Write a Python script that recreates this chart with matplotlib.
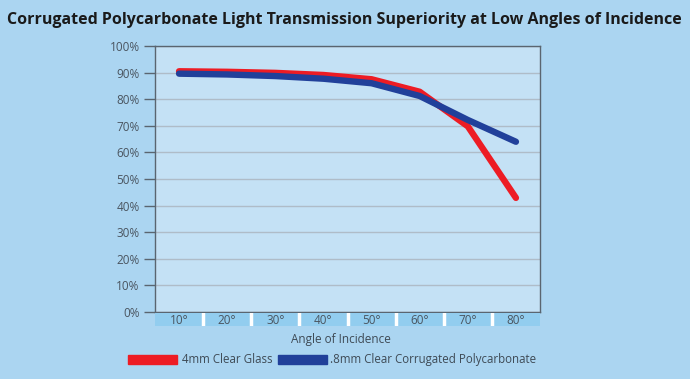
import matplotlib
matplotlib.use('Agg')
import matplotlib.pyplot as plt
from matplotlib.patches import Rectangle

angles = ['10°', '20°', '30°', '40°', '50°', '60°', '70°', '80°']
glass = [90.5, 90.3, 89.9, 89.1, 87.5, 82.8, 69.8, 42.9]
polycarb = [89.6, 89.3, 88.7, 87.7, 86.0, 81.2, 72.2, 64.0]
yticks = list(range(0, 101, 10))
series_names = ['4mm Clear Glass', '.8mm Clear Corrugated Polycarbonate']

plt.rcParams['font.family'] = ['Open Sans', 'DejaVu Sans']

W, H = 690, 379
fig = plt.figure(figsize=(W / 100, H / 100), dpi=100)
fig.patch.set_facecolor('#abd5f1')

def fx(px):
    return px / W

def fy(py):
    return 1 - py / H

# main plot area
ax = fig.add_axes([fx(155), fy(312), fx(540 - 155), fy(46) - fy(312)])
ax.set_facecolor('#c4e1f5')
x = list(range(len(angles)))
ax.plot(x, glass, color='#ed1c24', lw=4.6, solid_capstyle='round', zorder=3)
ax.plot(x, polycarb, color='#21409a', lw=4.6, solid_capstyle='round', zorder=4)
ax.set_xlim(-0.5, len(angles) - 0.5)
ax.set_ylim(0, 100)
ax.set_yticks(yticks)
ax.set_yticklabels([f'{v}%' for v in yticks], fontsize=8.5, color='#4a5560')
ax.tick_params(axis='y', length=8, width=1, color='#5a6570', pad=3)
ax.set_xticks([])
ax.grid(axis='y', color='#afbcc8', lw=1)
ax.set_axisbelow(True)
for s in ax.spines.values():
    s.set_color('#5a6570')
    s.set_linewidth(1)

# category band below the axis
band = fig.add_axes([fx(155), fy(326), fx(540 - 155), fy(313) - fy(326)])
band.set_facecolor('#92cdef')
band.set_xlim(-0.5, len(angles) - 0.5)
band.set_ylim(0, 1)
for i in range(1, len(angles)):
    band.axvline(i - 0.5, color='white', lw=2.5)
for i, a in enumerate(angles):
    band.text(i, 0.45, a, ha='center', va='center', fontsize=8.5, color='#4a5560')
band.set_xticks([])
band.set_yticks([])
for s in band.spines.values():
    s.set_visible(False)

fig.text(fx(341), fy(339), 'Angle of Incidence', ha='center', va='center',
         fontsize=8.5, color='#3e4a55')

# legend
fig.patches.append(Rectangle((fx(128), fy(364)), fx(49), fy(355) - fy(364),
                             transform=fig.transFigure, color='#ed1c24'))
fig.text(fx(182), fy(359.5), series_names[0], ha='left', va='center',
         fontsize=8.3, color='#3e4a55')
fig.patches.append(Rectangle((fx(278), fy(364)), fx(49), fy(355) - fy(364),
                             transform=fig.transFigure, color='#21409a'))
fig.text(fx(330), fy(359.5), series_names[1], ha='left', va='center',
         fontsize=8.3, color='#3e4a55')

fig.text(fx(344), fy(20), 'Corrugated Polycarbonate Light Transmission Superiority at Low Angles of Incidence',
         ha='center', va='center', fontsize=11.5, fontweight='bold', color='#1a1a1a')

fig.savefig('out.png', dpi=100, facecolor=fig.get_facecolor())
